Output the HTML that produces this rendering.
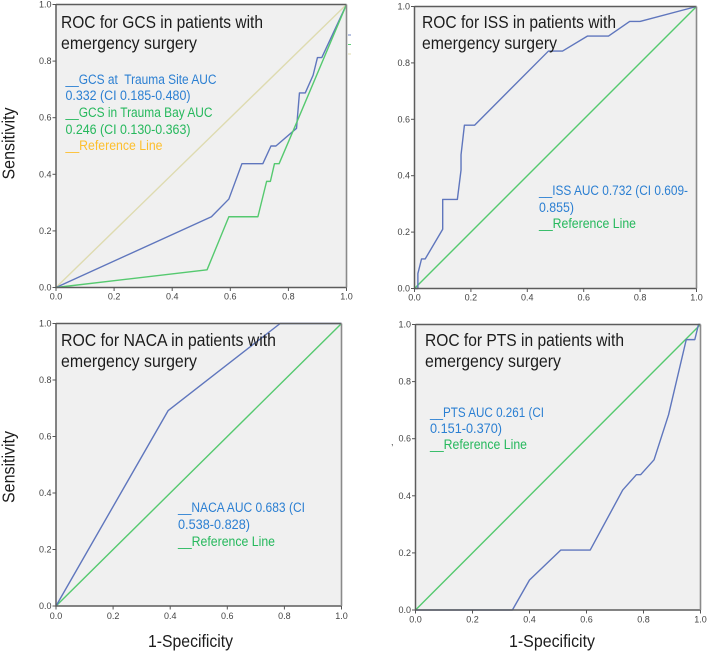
<!DOCTYPE html>
<html>
<head>
<meta charset="utf-8">
<title>ROC curves</title>
<style>
html,body{margin:0;padding:0;background:#fff;width:708px;height:652px;overflow:hidden}
svg{display:block;filter:blur(0.3px)}
text{font-family:"Liberation Sans",sans-serif}
.title{font-size:17.5px;fill:#1c1c1c}
.leg{font-size:13.5px;white-space:pre}
.axt{font-size:17.5px;fill:#1c1c1c}
.tick{font-size:9px;fill:#444}
</style>
</head>
<body>
<svg id="chart" width="708" height="652" viewBox="0 0 708 652" xmlns="http://www.w3.org/2000/svg">
  <g id="plots"></g>

  <g>
    <text class="title" x="61" y="28" textLength="202" lengthAdjust="spacingAndGlyphs">ROC for GCS in patients with</text>
    <text class="title" x="61" y="49" textLength="136" lengthAdjust="spacingAndGlyphs">emergency surgery</text>
    <text class="leg" x="65.5" y="84" fill="#2b7fd2" textLength="151" lengthAdjust="spacingAndGlyphs">__GCS at  Trauma Site AUC</text>
    <text class="leg" x="65.5" y="100" fill="#2b7fd2" textLength="125" lengthAdjust="spacingAndGlyphs">0.332 (CI 0.185-0.480)</text>
    <text class="leg" x="65.5" y="117" fill="#25b85c" textLength="147" lengthAdjust="spacingAndGlyphs">__GCS in Trauma Bay AUC</text>
    <text class="leg" x="65.5" y="134" fill="#25b85c" textLength="125" lengthAdjust="spacingAndGlyphs">0.246 (CI 0.130-0.363)</text>
    <text class="leg" x="65.5" y="150" fill="#fdbf2d" textLength="97" lengthAdjust="spacingAndGlyphs">__Reference Line</text>
    <rect x="348" y="34.5" width="3" height="1" fill="#6f84c4"/>
    <rect x="348" y="44" width="3" height="1" fill="#5fcf7a"/>
    <rect x="348" y="53.5" width="3" height="1" fill="#e0dcae"/>
  </g>

  <g>
    <text class="title" x="422" y="28" textLength="194" lengthAdjust="spacingAndGlyphs">ROC for ISS in patients with</text>
    <text class="title" x="422" y="49" textLength="135" lengthAdjust="spacingAndGlyphs">emergency surgery</text>
    <text class="leg" x="539" y="195" fill="#2b7fd2" textLength="149" lengthAdjust="spacingAndGlyphs">__ISS AUC 0.732 (CI 0.609-</text>
    <text class="leg" x="539" y="212" fill="#2b7fd2" textLength="35" lengthAdjust="spacingAndGlyphs">0.855)</text>
    <text class="leg" x="539" y="228" fill="#25b85c" textLength="97" lengthAdjust="spacingAndGlyphs">__Reference Line</text>
  </g>

  <g>
    <text class="title" x="61" y="346" textLength="215" lengthAdjust="spacingAndGlyphs">ROC for NACA in patients with</text>
    <text class="title" x="61" y="367" textLength="136" lengthAdjust="spacingAndGlyphs">emergency surgery</text>
    <text class="leg" x="178" y="512" fill="#2b7fd2" textLength="127" lengthAdjust="spacingAndGlyphs">__NACA AUC 0.683 (CI</text>
    <text class="leg" x="178" y="529" fill="#2b7fd2" textLength="72" lengthAdjust="spacingAndGlyphs">0.538-0.828)</text>
    <text class="leg" x="178" y="546" fill="#25b85c" textLength="97" lengthAdjust="spacingAndGlyphs">__Reference Line</text>
  </g>

  <g>
    <text class="title" x="425" y="346" textLength="199" lengthAdjust="spacingAndGlyphs">ROC for PTS in patients with</text>
    <text class="title" x="425" y="367" textLength="136" lengthAdjust="spacingAndGlyphs">emergency surgery</text>
    <text class="leg" x="430" y="417" fill="#2b7fd2" textLength="114" lengthAdjust="spacingAndGlyphs">__PTS AUC 0.261 (CI</text>
    <text class="leg" x="430" y="433" fill="#2b7fd2" textLength="72" lengthAdjust="spacingAndGlyphs">0.151-0.370)</text>
    <text class="leg" x="430" y="449" fill="#25b85c" textLength="97" lengthAdjust="spacingAndGlyphs">__Reference Line</text>
    <text x="391" y="445" font-size="9" fill="#444">,</text>
  </g>

  <text class="axt" transform="translate(14.5,143.5) rotate(-90)" text-anchor="middle" textLength="72" lengthAdjust="spacingAndGlyphs">Sensitivity</text>
  <text class="axt" transform="translate(14.5,467) rotate(-90)" text-anchor="middle" textLength="72" lengthAdjust="spacingAndGlyphs">Sensitivity</text>
  <text class="axt" x="148" y="647" textLength="85" lengthAdjust="spacingAndGlyphs">1-Specificity</text>
  <text class="axt" x="509" y="647" textLength="86" lengthAdjust="spacingAndGlyphs">1-Specificity</text>
</svg>
<script>
var tickValues = [0, 0.2, 0.4, 0.6, 0.8, 1];
var tickLabels = ["0.0", "0.2", "0.4", "0.6", "0.8", "1.0"];

var referenceX = [0, 1];
var referenceY = [0, 1];

var gcsSiteX = [0, 0.535, 0.595, 0.64, 0.712, 0.74, 0.757, 0.828, 0.838, 0.858, 0.885, 0.9, 0.915, 1];
var gcsSiteY = [0, 0.25, 0.3125, 0.4375, 0.4375, 0.5, 0.5, 0.5625, 0.6875, 0.6875, 0.75, 0.8125, 0.8125, 1];
var gcsBayX = [0, 0.52, 0.595, 0.695, 0.725, 0.738, 0.752, 0.768, 0.82, 1];
var gcsBayY = [0, 0.0625, 0.25, 0.25, 0.375, 0.375, 0.4375, 0.4375, 0.5625, 1];

var issX = [0, 0.012, 0.012, 0.025, 0.038, 0.1, 0.1, 0.152, 0.165, 0.165, 0.177, 0.213, 0.475, 0.525, 0.613, 0.688, 0.763, 0.8, 1];
var issY = [0, 0, 0.053, 0.105, 0.105, 0.21, 0.316, 0.316, 0.42, 0.474, 0.579, 0.579, 0.842, 0.842, 0.895, 0.895, 0.947, 0.947, 1];

var nacaX = [0, 0.393, 0.785, 1];
var nacaY = [0, 0.692, 1, 1];

var ptsX = [0, 0.34, 0.4, 0.51, 0.613, 0.727, 0.775, 0.79, 0.837, 0.888, 0.95, 0.98, 0.993, 1];
var ptsY = [0, 0, 0.105, 0.21, 0.21, 0.42, 0.474, 0.474, 0.526, 0.684, 0.947, 0.947, 1, 1];

var BLUE = "#5f76bd";
var GREEN = "#55c96f";
var TAN = "#dedbb0";

var panels = [
  {key: "gcs", left: 56, right: 346.5, top: 4.5, bottom: 287.5, xLabelY: 299.5,
   series: [
     {name: "reference", xs: referenceX, ys: referenceY, color: TAN},
     {name: "site", xs: gcsSiteX, ys: gcsSiteY, color: BLUE},
     {name: "bay", xs: gcsBayX, ys: gcsBayY, color: GREEN}
   ]},
  {key: "iss", left: 414.5, right: 696.5, top: 6.5, bottom: 288.5, xLabelY: 300.5,
   series: [
     {name: "reference", xs: referenceX, ys: referenceY, color: GREEN},
     {name: "curve", xs: issX, ys: issY, color: BLUE}
   ]},
  {key: "naca", left: 56, right: 341.5, top: 323.5, bottom: 606, xLabelY: 619,
   series: [
     {name: "reference", xs: referenceX, ys: referenceY, color: GREEN},
     {name: "curve", xs: nacaX, ys: nacaY, color: BLUE}
   ]},
  {key: "pts", left: 415.5, right: 700.5, top: 324.5, bottom: 610, xLabelY: 622.5,
   series: [
     {name: "reference", xs: referenceX, ys: referenceY, color: GREEN},
     {name: "curve", xs: ptsX, ys: ptsY, color: BLUE}
   ]}
];

var NS = "http://www.w3.org/2000/svg";
var root = document.getElementById("plots");

function make(tag, attrs, parent) {
  var el = document.createElementNS(NS, tag);
  for (var k in attrs) { el.setAttribute(k, attrs[k]); }
  parent.appendChild(el);
  return el;
}

panels.forEach(function (p) {
  function sx(v) { return p.left + v * (p.right - p.left); }
  function sy(v) { return p.bottom - v * (p.bottom - p.top); }

  var g = make("g", {}, root);
  
  

  var bg = make("rect", {x: p.left, y: p.top, width: p.right - p.left, height: p.bottom - p.top, fill: "#f0f0f0"}, g);
  
  

  p.series.forEach(function (s) {
    var pts = s.xs.map(function (x, i) { return sx(x).toFixed(2) + "," + sy(s.ys[i]).toFixed(2); }).join(" ");
    var line = make("polyline", {points: pts, fill: "none", stroke: s.color, "stroke-width": 1.4, "stroke-linejoin": "round"}, g);
    
    
  });

  var frame = make("path", {d: "M" + p.left + " " + p.top + "H" + p.right + "M" + p.left + " " + p.top + "V" + p.bottom + "H" + p.right, fill: "none", stroke: "#5c5c5c", "stroke-width": 1.5}, g);
  
  

  var rightEdge = make("line", {x1: p.right, x2: p.right, y1: p.top, y2: p.bottom, stroke: "#8a8a8a", "stroke-width": 1.6}, g);
  
  

  tickValues.forEach(function (v, i) {
    var xt = make("line", {x1: sx(v), x2: sx(v), y1: p.bottom, y2: p.bottom + 3.5, stroke: "#555", "stroke-width": 1}, g);
    
    

    var yt = make("line", {x1: p.left - 3.5, x2: p.left, y1: sy(v), y2: sy(v), stroke: "#555", "stroke-width": 1}, g);
    
    

    var xl = make("text", {x: sx(v), y: p.xLabelY, "text-anchor": "middle", "class": "tick"}, g);
    xl.textContent = tickLabels[i];
    
    

    var yl = make("text", {x: p.left - 4.5, y: sy(v) + 3, "text-anchor": "end", "class": "tick"}, g);
    yl.textContent = tickLabels[i];
    
    
  });
});
</script>
</body>
</html>
